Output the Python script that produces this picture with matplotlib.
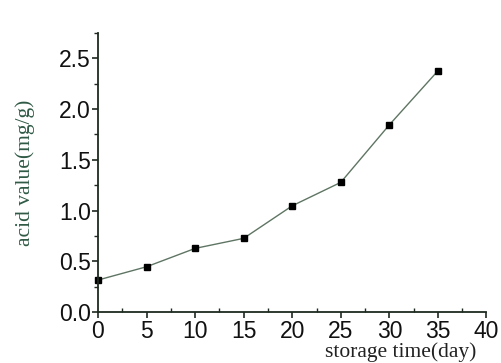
import matplotlib
matplotlib.use("Agg")
import matplotlib.pyplot as plt
from matplotlib.ticker import MultipleLocator

days = [0, 5, 10, 15, 20, 25, 30, 35]
acid_value = [0.315, 0.446, 0.627, 0.726, 1.047, 1.278, 1.845, 2.377]
x_ticks = [0, 5, 10, 15, 20, 25, 30, 35, 40]
y_ticks = [0.0, 0.5, 1.0, 1.5, 2.0, 2.5]

fig = plt.figure(figsize=(5.01, 3.63), dpi=100)
ax = fig.add_axes([0.1956, 0.1405, 0.7754, 0.7685])

ax.plot(days, acid_value, color="#5f7563", linewidth=1.0, marker="s",
        markersize=4.2, markerfacecolor="black", markeredgecolor="black", clip_on=False)

ax.set_xlim(0, 40)
ax.set_ylim(0, 2.75)
ax.set_xticks(x_ticks)
ax.set_yticks(y_ticks)
ax.set_xticklabels([str(v) for v in x_ticks])
ax.set_yticklabels([f"{v:.1f}" for v in y_ticks])
ax.xaxis.set_minor_locator(MultipleLocator(2.5))
ax.yaxis.set_minor_locator(MultipleLocator(0.25))

for s in ["top", "right"]:
    ax.spines[s].set_visible(False)
for s in ["left", "bottom"]:
    ax.spines[s].set_color("#1e2a20")
    ax.spines[s].set_linewidth(1.3)

ax.tick_params(axis="both", which="major", direction="out", length=4, width=1.2,
               color="#1e2a20", labelsize=16.5, pad=1)
ax.tick_params(axis="x", which="major", pad=2)
ax.tick_params(axis="x", which="minor", direction="in", length=3, width=1.0, color="#1e2a20")
ax.tick_params(axis="y", which="minor", direction="out", length=3, width=1.0, color="#1e2a20")
for lab in ax.get_xticklabels() + ax.get_yticklabels():
    lab.set_fontfamily("Liberation Sans")
    lab.set_color("#111111")

fig.text(0.05, 0.525, "acid value(mg/g)", rotation=90, ha="center", va="center",
         fontsize=15.5, family="Liberation Serif", color="#2f5a45")
fig.text(0.95, 0.004, "storage time(day)", ha="right", va="bottom",
         fontsize=15.5, family="Liberation Serif", color="#222222")

fig.savefig("out.png", dpi=100)
